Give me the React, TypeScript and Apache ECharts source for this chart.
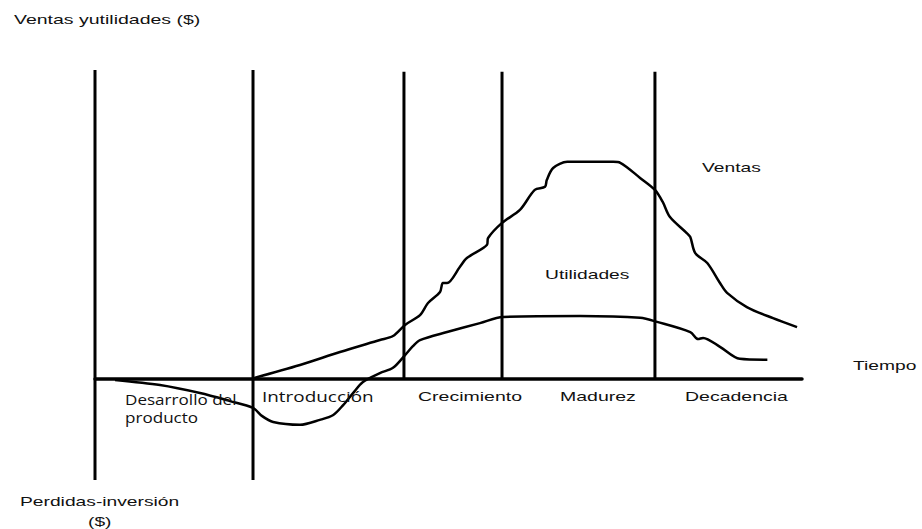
import React, { useEffect, useRef } from "react";
import * as echarts from "echarts";

// Time axis (0..100) and value axis (-33..100), arbitrary units
const ventasX = [22.35, 29.0, 34.65, 40.3, 42.15, 43.85, 45.97, 47.1, 48.8, 49.2, 49.8, 51.6, 52.6, 55.45, 55.6, 57.57, 60.1, 62.2, 63.65, 63.9, 64.8, 66.8, 73.3, 74.3, 77.1, 79.2, 80.3, 81.3, 83.7, 84.2, 84.9, 86.6, 88.4, 89.4, 92.2, 95.9, 99.3];
const ventasY = [0, 4.3, 8.5, 12.4, 13.7, 17.3, 20.5, 24.4, 28.0, 30.9, 30.9, 36.1, 39.0, 43.3, 45.5, 50.4, 54.6, 61.1, 62.1, 64.3, 68.2, 70.2, 70.2, 69.9, 65.0, 61.1, 57.2, 52.4, 47.1, 45.8, 40.6, 37.4, 30.9, 27.7, 23.1, 19.5, 16.6];

const utilidadesX = [2.83, 9.2, 14.85, 19.1, 22.35, 23.6, 25.2, 29.0, 31.8, 33.7, 35.1, 36.5, 37.9, 40.3, 42.15, 43.85, 45.0, 45.97, 49.8, 54.45, 57.7, 68.6, 77.1, 79.5, 84.2, 85.3, 86.0, 88.4, 91.2, 95.1];
const utilidadesY = [-0.55, -2.2, -4.8, -7.4, -9.6, -12.2, -14.2, -15.1, -13.5, -11.9, -8.7, -4.8, -1.2, 1.7, 3.4, 7.5, 10.5, 12.4, 15.0, 17.9, 19.9, 20.2, 19.6, 18.3, 15.0, 12.7, 13.1, 10.2, 6.3, 6.0];

const boundaryX = [0, 22.35, 43.7, 57.57, 79.2];
const boundaryBottom = [-33, -33, 0, 0, 0];
const boundaryTop = [100, 100, 99.4, 99.4, 99.4];

export default function App() {
  const ref = useRef<HTMLDivElement>(null);
  useEffect(() => {
    if (!ref.current) return;
    const chart = echarts.init(ref.current, undefined, { renderer: "svg" });
    const arial = "Liberation Sans, Arial, sans-serif";
    const cal = "Open Sans, Noto Sans, sans-serif";
    const txt = (text: string, x: number, y: number, sx: number, size: number, family: string) => ({
      type: "text",
      x,
      y,
      scaleX: sx,
      style: { text, fontSize: size, fontFamily: family, fill: "#111", align: "left", verticalAlign: "middle" },
      z: 10,
    });
    const boundarySeries = boundaryX.map((bx, i) => ({
      type: "line",
      name: "limite" + i,
      data: [[bx, boundaryBottom[i]], [bx, boundaryTop[i]]],
      showSymbol: false,
      symbol: "none",
      lineStyle: { color: "#000", width: 3 },
      silent: true,
    }));
    chart.setOption({
      animation: false,
      backgroundColor: "#fff",
      grid: { left: 95, right: 120, top: 70, bottom: 49, containLabel: false, outerBoundsMode: "none" },
      xAxis: {
        type: "value",
        min: 0,
        max: 100,
        axisLine: { show: true, onZero: true, lineStyle: { color: "#000", width: 3.5 } },
        axisTick: { show: false },
        axisLabel: { show: false },
        splitLine: { show: false },
      },
      yAxis: {
        type: "value",
        min: -33,
        max: 100,
        axisLine: { show: false },
        axisTick: { show: false },
        axisLabel: { show: false },
        splitLine: { show: false },
      },
      series: [
        ...boundarySeries,
        {
          type: "line",
          name: "Ventas",
          data: ventasX.map((x, i) => [x, ventasY[i]]),
          smooth: 0.3,
          symbol: "none",
          lineStyle: { color: "#000", width: 2.5 },
        },
        {
          type: "line",
          name: "Utilidades",
          data: utilidadesX.map((x, i) => [x, utilidadesY[i]]),
          smooth: 0.3,
          symbol: "none",
          lineStyle: { color: "#000", width: 2.5 },
        },
      ],
      graphic: [
        txt("Ventas yutilidades ($)", 14, 20, 1.5, 13, arial),
        txt("Tiempo", 853, 365, 1.48, 13, arial),
        txt("Ventas", 702, 167, 1.48, 13, arial),
        txt("Utilidades", 545, 274, 1.48, 13, arial),
        txt("Crecimiento", 418, 397, 1.5, 13, arial),
        txt("Madurez", 560, 397, 1.5, 13, arial),
        txt("Decadencia", 685, 397, 1.5, 13, arial),
        txt("Desarrollo del", 125, 400, 1.22, 14, cal),
        txt("producto", 125, 418, 1.22, 14, cal),
        txt("Introducción", 262, 397, 1.35, 14, cal),
        txt("Perdidas-inversión", 20, 501, 1.48, 13, arial),
        txt("($)", 88, 521, 1.48, 13, arial),
      ],
    });
    return () => chart.dispose();
  }, []);
  return <div ref={ref} style={{ position: "absolute", left: 0, top: 0, width: 922, height: 529, background: "#fff" }} />;
}
